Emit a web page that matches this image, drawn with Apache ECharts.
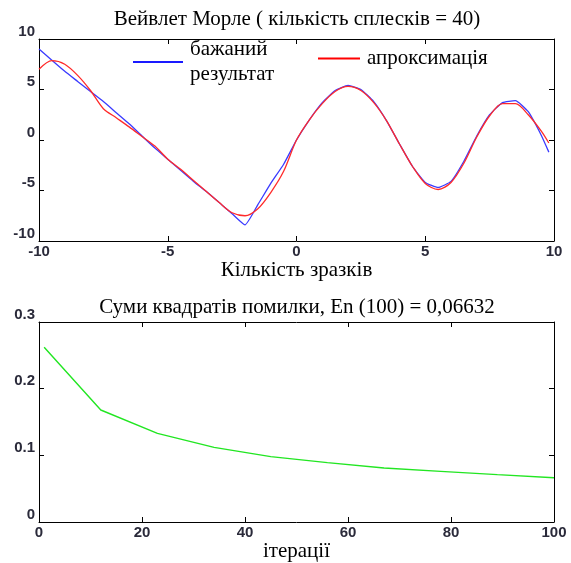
<!DOCTYPE html>
<html>
<head>
<meta charset="utf-8">
<script src="https://cdn.jsdelivr.net/npm/echarts@6/dist/echarts.min.js"></script>
<style>
  html, body { margin: 0; padding: 0; background: #fff; }
  #main { width: 571px; height: 563px; }
</style>
</head>
<body>
<div id="main"></div>
<script>
// верхній графік: відліки по x
var xs = [-10, -9.5, -9, -8.5, -8, -7.5, -7, -6.5, -6, -5.5, -5, -4.5, -4, -3.5, -3, -2.5, -2, -1.5, -1, -0.5,
          0, 0.5, 1, 1.5, 2, 2.5, 3, 3.5, 4, 4.5, 5, 5.5, 6, 6.5, 7, 7.5, 8, 8.5, 9, 9.5, 9.8];
// бажаний результат
var desired = [9.0, 7.9, 6.8, 5.8, 4.8, 3.8, 2.7, 1.6, 0.4, -0.8, -1.9, -3.0, -4.1, -5.1, -6.2, -7.3, -8.4, -6.4, -4.3, -2.4,
               0.0, 2.0, 3.7, 4.9, 5.4, 5.0, 3.8, 1.9, -0.4, -2.6, -4.2, -4.7, -4.1, -2.1, 0.4, 2.5, 3.7, 3.9, 2.8, 0.5, -1.2];
// апроксимація
var approx = [7.0, 7.85, 7.5, 6.4, 4.9, 3.1, 2.2, 1.3, 0.35, -0.6, -1.9, -2.9, -4.0, -5.1, -6.2, -7.2, -7.5, -6.8, -5.2, -3.1,
              0.0, 2.0, 3.6, 4.8, 5.3, 4.9, 3.7, 1.9, -0.4, -2.6, -4.3, -4.9, -4.2, -2.3, 0.3, 2.4, 3.6, 3.6, 2.5, 0.9, -0.3];

// нижній графік: сума квадратів помилки
var iters = [1, 12, 23, 34, 45, 56, 67, 78, 89, 100];
var errs = [0.262, 0.168, 0.133, 0.112, 0.098, 0.089, 0.081, 0.076, 0.071, 0.0663];

var serif = 'Liberation Serif';
var sans = 'Liberation Sans';

function pairs (a, b) {
  var out = [];
  for (var i = 0; i < a.length; i++) out.push([a[i], b[i]]);
  return out;
}

var tickLbl = { fontFamily: sans, fontSize: 15, fontWeight: 'bold', color: '#2a2a3a' };
var line = { onZero: false, lineStyle: { color: '#000', width: 1 } };
var tick = { inside: true, length: 5, lineStyle: { color: '#000', width: 1 } };

function xAx (grid, min, max, interval, name, gap) {
  return {
    type: 'value', gridIndex: grid, min: min, max: max, interval: interval,
    position: 'bottom', axisLine: line, axisTick: tick, splitLine: { show: false },
    axisLabel: Object.assign({ margin: 3 }, tickLbl),
    name: name, nameLocation: 'middle', nameGap: gap,
    nameTextStyle: { fontFamily: serif, fontSize: 21, color: '#000' }
  };
}
function xMirror (grid, min, max, interval) {
  return {
    type: 'value', gridIndex: grid, min: min, max: max, interval: interval,
    position: 'top', axisLine: line, axisTick: tick, splitLine: { show: false },
    axisLabel: { show: false }
  };
}
function yAx (grid, min, max, interval) {
  return {
    type: 'value', gridIndex: grid, min: min, max: max, interval: interval,
    position: 'left', axisLine: line, axisTick: tick, splitLine: { show: false },
    axisLabel: Object.assign({ margin: 4, verticalAlign: 'bottom', lineHeight: 15 }, tickLbl)
  };
}
function yMirror (grid, min, max, interval) {
  return {
    type: 'value', gridIndex: grid, min: min, max: max, interval: interval,
    position: 'right', axisLine: line, axisTick: tick, splitLine: { show: false },
    axisLabel: { show: false }
  };
}

var myChart = echarts.init(document.getElementById('main'));

var option = {
  backgroundColor: '#fff',
  animation: false,
  title: [
    {
      text: 'Вейвлет Морле ( кількість сплесків = 40)',
      left: 297, top: 9, textAlign: 'center', padding: 0,
      textStyle: { fontFamily: serif, fontSize: 21, fontWeight: 'normal', color: '#000' }
    },
    {
      text: 'Суми квадратів помилки, En (100) = 0,06632',
      left: 297, top: 297, textAlign: 'center', padding: 0,
      textStyle: { fontFamily: serif, fontSize: 21, fontWeight: 'normal', color: '#000' }
    }
  ],
  legend: [
    {
      data: ['бажаний\nрезультат'], left: 133, top: 37, padding: 0,
      icon: 'rect', itemWidth: 50, itemHeight: 2, itemGap: 0,
      textStyle: { fontFamily: serif, fontSize: 21, color: '#000', lineHeight: 25, padding: [0, 0, 0, 2] }
    },
    {
      data: ['апроксимація'], left: 318, top: 48, padding: 0,
      icon: 'rect', itemWidth: 42, itemHeight: 2, itemGap: 0,
      textStyle: { fontFamily: serif, fontSize: 21, color: '#000', padding: [0, 0, 0, 2] }
    }
  ],
  grid: [
    { left: 39, top: 39, width: 515, height: 202 },
    { left: 39, top: 322, width: 515, height: 200 }
  ],
  xAxis: [
    xAx(0, -10, 10, 5, 'Кількість зразків', 13),
    xMirror(0, -10, 10, 5),
    xAx(1, 0, 100, 20, 'ітерації', 19),
    xMirror(1, 0, 100, 20)
  ],
  yAxis: [
    yAx(0, -10, 10, 5),
    yMirror(0, -10, 10, 5),
    yAx(1, 0, 0.3, 0.1),
    yMirror(1, 0, 0.3, 0.1)
  ],
  series: [
    {
      name: 'бажаний\nрезультат', type: 'line', xAxisIndex: 0, yAxisIndex: 0,
      data: pairs(xs, desired), showSymbol: false, smooth: 0.15,
      itemStyle: { color: '#1a1aff' }, lineStyle: { color: '#3a3aff', width: 1.3 }
    },
    {
      name: 'апроксимація', type: 'line', xAxisIndex: 0, yAxisIndex: 0,
      data: pairs(xs, approx), showSymbol: false, smooth: 0.3,
      itemStyle: { color: '#ff0000' }, lineStyle: { color: '#ff2a2a', width: 1.3 }
    },
    {
      name: 'помилка', type: 'line', xAxisIndex: 2, yAxisIndex: 2,
      data: pairs(iters, errs), showSymbol: false,
      lineStyle: { color: '#22e622', width: 1.4 }
    }
  ]
};

myChart.setOption(option);
</script>
</body>
</html>
